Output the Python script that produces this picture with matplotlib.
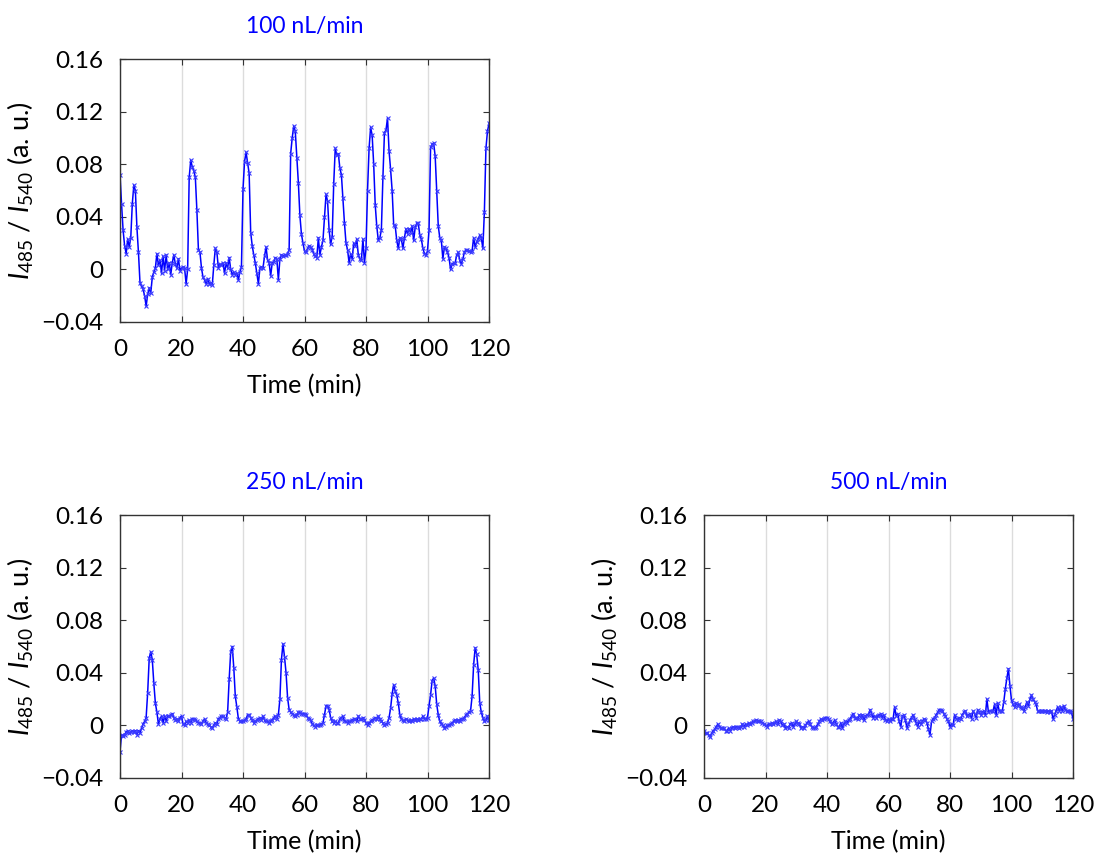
import numpy as np
import matplotlib
matplotlib.use("Agg")
import matplotlib.pyplot as plt

plt.rcParams['font.family'] = ['Lato', 'DejaVu Sans']
plt.rcParams['mathtext.fontset'] = 'custom'
plt.rcParams['mathtext.rm'] = 'Lato'
plt.rcParams['mathtext.it'] = 'Lato:italic'

# time axis (min), one reading every 0.5 min
time_min = np.arange(0, 120.5, 0.5)

# I485/I540 ratio
ratio_100 = [
    0.072, 0.050, 0.030, 0.018, 0.012, 0.023, 0.017, 0.024, 0.050, 0.064,
    0.060, 0.032, 0.013, -0.010, -0.013, -0.015, -0.020, -0.028, -0.019, -0.014,
    -0.018, -0.006, -0.002, 0.001, 0.012, 0.003, 0.007, -0.003, 0.010, -0.001,
    0.011, 0.000, 0.005, -0.004, 0.005, 0.011, 0.004, 0.001, 0.008, -0.001,
    0.001, 0.002, 0.001, -0.011, 0.000, 0.070, 0.083, 0.078, 0.075, 0.070,
    0.045, 0.015, 0.013, 0.001, -0.006, -0.008, -0.011, -0.007, -0.011, -0.010,
    -0.012, 0.003, 0.016, 0.013, 0.001, 0.004, 0.003, 0.005, -0.003, 0.005,
    0.001, 0.009, 0.000, -0.004, -0.002, -0.004, -0.003, -0.008, -0.002, 0.002,
    0.061, 0.082, 0.089, 0.081, 0.073, 0.028, 0.018, 0.011, 0.005, -0.003,
    -0.011, 0.001, 0.002, 0.001, 0.010, 0.017, 0.007, 0.005, -0.005, 0.005,
    0.006, 0.009, 0.008, -0.008, 0.008, 0.011, 0.010, 0.011, 0.011, 0.012,
    0.015, 0.088, 0.100, 0.109, 0.105, 0.085, 0.066, 0.041, 0.027, 0.020,
    0.014, 0.013, 0.016, 0.018, 0.017, 0.015, 0.012, 0.010, 0.009, 0.024,
    0.011, 0.017, 0.022, 0.040, 0.057, 0.052, 0.030, 0.019, 0.025, 0.065,
    0.092, 0.087, 0.088, 0.077, 0.072, 0.054, 0.035, 0.020, 0.015, 0.005,
    0.012, 0.008, 0.020, 0.018, 0.023, 0.011, 0.008, 0.007, 0.023, 0.005,
    0.016, 0.060, 0.092, 0.108, 0.102, 0.080, 0.049, 0.033, 0.022, 0.024,
    0.030, 0.070, 0.104, 0.106, 0.115, 0.090, 0.076, 0.060, 0.034, 0.033,
    0.022, 0.016, 0.024, 0.023, 0.016, 0.024, 0.031, 0.027, 0.031, 0.028,
    0.033, 0.022, 0.032, 0.035, 0.035, 0.026, 0.023, 0.016, 0.012, 0.011,
    0.014, 0.030, 0.093, 0.095, 0.096, 0.086, 0.060, 0.033, 0.024, 0.022,
    0.008, 0.017, 0.016, 0.013, 0.009, 0.000, 0.004, 0.005, 0.005, 0.011,
    0.013, 0.007, 0.004, 0.008, 0.013, 0.015, 0.015, 0.014, 0.013, 0.014,
    0.024, 0.017, 0.021, 0.023, 0.026, 0.024, 0.016, 0.044, 0.092, 0.105,
    0.111,
]

ratio_250 = [
    -0.020, -0.007, -0.008, -0.007, -0.005, -0.004, -0.006, -0.005, -0.004, -0.005,
    -0.004, -0.007, -0.004, -0.006, -0.002, 0.001, 0.003, 0.006, 0.025, 0.051,
    0.056, 0.050, 0.032, 0.017, 0.010, 0.001, 0.005, 0.007, 0.002, 0.007,
    0.003, 0.007, 0.007, 0.008, 0.009, 0.006, 0.004, 0.005, 0.003, 0.006,
    0.007, 0.001, 0.000, 0.003, 0.002, 0.004, 0.002, 0.005, 0.005, 0.004,
    0.003, 0.002, 0.002, 0.001, 0.003, 0.005, 0.002, 0.001, 0.000, -0.001,
    -0.002, 0.000, 0.002, 0.001, 0.005, 0.006, 0.007, 0.007, 0.006, 0.005,
    0.010, 0.035, 0.056, 0.060, 0.044, 0.022, 0.014, 0.005, 0.003, 0.003,
    0.003, 0.004, 0.005, 0.008, 0.008, 0.006, 0.004, 0.002, 0.003, 0.004,
    0.005, 0.006, 0.004, 0.007, 0.004, 0.003, 0.003, 0.002, 0.003, 0.004,
    0.006, 0.007, 0.005, 0.008, 0.020, 0.050, 0.062, 0.052, 0.040, 0.021,
    0.012, 0.010, 0.009, 0.008, 0.007, 0.008, 0.010, 0.010, 0.009, 0.009,
    0.009, 0.008, 0.006, 0.005, 0.004, 0.001, 0.000, -0.001, 0.000, 0.000,
    0.000, 0.001, 0.002, 0.008, 0.015, 0.015, 0.012, 0.006, 0.003, 0.002,
    0.003, 0.002, 0.002, 0.005, 0.006, 0.007, 0.003, 0.003, 0.002, 0.003,
    0.003, 0.004, 0.005, 0.005, 0.003, 0.007, 0.005, 0.005, 0.006, 0.004,
    0.002, 0.000, 0.002, 0.003, 0.004, 0.005, 0.006, 0.005, 0.007, 0.005,
    0.003, 0.002, 0.000, 0.001, 0.002, 0.006, 0.013, 0.024, 0.031, 0.026,
    0.023, 0.017, 0.008, 0.005, 0.004, 0.003, 0.005, 0.004, 0.003, 0.004,
    0.003, 0.005, 0.004, 0.005, 0.004, 0.005, 0.005, 0.007, 0.005, 0.005,
    0.006, 0.015, 0.023, 0.034, 0.036, 0.030, 0.016, 0.008, 0.003, 0.001,
    0.000, -0.002, -0.001, 0.000, 0.000, 0.001, 0.002, 0.003, 0.004, 0.003,
    0.004, 0.003, 0.005, 0.005, 0.006, 0.008, 0.009, 0.010, 0.011, 0.022,
    0.046, 0.059, 0.054, 0.042, 0.017, 0.010, 0.006, 0.003, 0.004, 0.007,
    0.004,
]

ratio_500 = [
    -0.004, -0.006, -0.006, -0.007, -0.009, -0.006, -0.004, -0.003, -0.001, 0.001,
    -0.001, -0.002, -0.002, -0.002, -0.004, -0.004, -0.002, -0.004, -0.002, -0.001,
    -0.002, -0.001, -0.001, -0.002, -0.001, 0.001, -0.001, 0.001, 0.000, 0.002,
    0.001, 0.002, 0.003, 0.003, 0.004, 0.003, 0.003, 0.003, 0.002, 0.001,
    0.000, -0.001, 0.001, 0.001, 0.002, 0.001, 0.002, 0.003, 0.001, 0.004,
    0.003, 0.000, 0.001, -0.002, -0.001, -0.002, 0.001, 0.002, -0.001, 0.001,
    0.003, 0.002, 0.001, -0.002, -0.001, -0.002, 0.000, 0.002, 0.003, 0.001,
    -0.001, -0.002, -0.002, -0.001, 0.001, 0.003, 0.005, 0.004, 0.005, 0.006,
    0.006, 0.005, 0.003, 0.001, 0.002, 0.004, 0.001, -0.001, -0.001, 0.002,
    -0.002, 0.001, 0.003, 0.002, 0.004, 0.005, 0.007, 0.009, 0.006, 0.006,
    0.005, 0.008, 0.006, 0.008, 0.004, 0.007, 0.008, 0.008, 0.012, 0.009,
    0.006, 0.007, 0.006, 0.007, 0.008, 0.009, 0.006, 0.008, 0.004, 0.003,
    0.005, 0.003, 0.005, 0.005, 0.014, 0.007, 0.009, 0.003, -0.001, 0.007,
    0.008, 0.004, -0.002, 0.001, 0.004, 0.006, 0.008, 0.005, 0.002, -0.001,
    0.003, 0.001, 0.003, 0.005, 0.004, 0.002, -0.003, -0.007, 0.003, 0.005,
    0.006, 0.008, 0.010, 0.012, 0.012, 0.011, 0.009, 0.007, 0.005, 0.003,
    -0.001, 0.001, 0.000, 0.008, 0.005, 0.004, 0.006, 0.005, 0.008, 0.010,
    0.011, 0.007, 0.008, 0.009, 0.005, 0.011, 0.009, 0.006, 0.012, 0.010,
    0.008, 0.010, 0.011, 0.008, 0.020, 0.010, 0.011, 0.011, 0.011, 0.016,
    0.008, 0.017, 0.011, 0.011, 0.011, 0.018, 0.028, 0.036, 0.043, 0.030,
    0.019, 0.016, 0.014, 0.017, 0.015, 0.016, 0.014, 0.013, 0.011, 0.014,
    0.018, 0.015, 0.020, 0.023, 0.020, 0.018, 0.016, 0.011, 0.011, 0.011,
    0.011, 0.011, 0.011, 0.010, 0.011, 0.010, 0.011, 0.005, 0.008, 0.011,
    0.014, 0.011, 0.014, 0.011, 0.015, 0.012, 0.011, 0.011, 0.011, 0.010,
    0.005,
]

panel_titles = ['100 nL/min', '250 nL/min', '500 nL/min']
x_ticks = [0, 20, 40, 60, 80, 100, 120]
y_ticks = [-0.04, 0, 0.04, 0.08, 0.12, 0.16]
y_ticklabels = ['\u22120.04', '0', '0.04', '0.08', '0.12', '0.16']

blue = '#0000ff'


def draw_panel(ax, y, title):
    ax.plot(time_min, y, color=blue, lw=1.1, marker='x', ms=3, mew=0.8,
            mec='#3a3aff')
    ax.set_xlim(0, 120)
    ax.set_ylim(-0.04, 0.16)
    ax.set_xticks(x_ticks)
    ax.set_yticks(y_ticks)
    ax.set_yticklabels(y_ticklabels)
    ax.grid(axis='x', color='#dcdcdc', lw=1)
    ax.set_axisbelow(True)
    ax.tick_params(direction='in', top=True, right=True, length=4,
                   labelsize=17.5, pad=12, color='#333333')
    for s in ax.spines.values():
        s.set_color('#333333')
        s.set_linewidth(1.0)
    ax.set_title(title, color=blue, fontsize=16.5, pad=19)
    ax.set_xlabel('Time (min)', fontsize=18, labelpad=10)
    ax.set_ylabel(r'$I_{485}$ / $I_{540}$ (a. u.)', fontsize=19.5, labelpad=4)


fig = plt.figure(figsize=(10.96, 8.66), dpi=100)
w = 369 / 1096
h = 263 / 866
ax1 = fig.add_axes([120 / 1096, 1 - 322 / 866, w, h])
ax2 = fig.add_axes([120 / 1096, 1 - 778 / 866, w, h])
ax3 = fig.add_axes([704 / 1096, 1 - 778 / 866, w, h])

draw_panel(ax1, ratio_100, panel_titles[0])
draw_panel(ax2, ratio_250, panel_titles[1])
draw_panel(ax3, ratio_500, panel_titles[2])

fig.savefig('out.png', dpi=100)
